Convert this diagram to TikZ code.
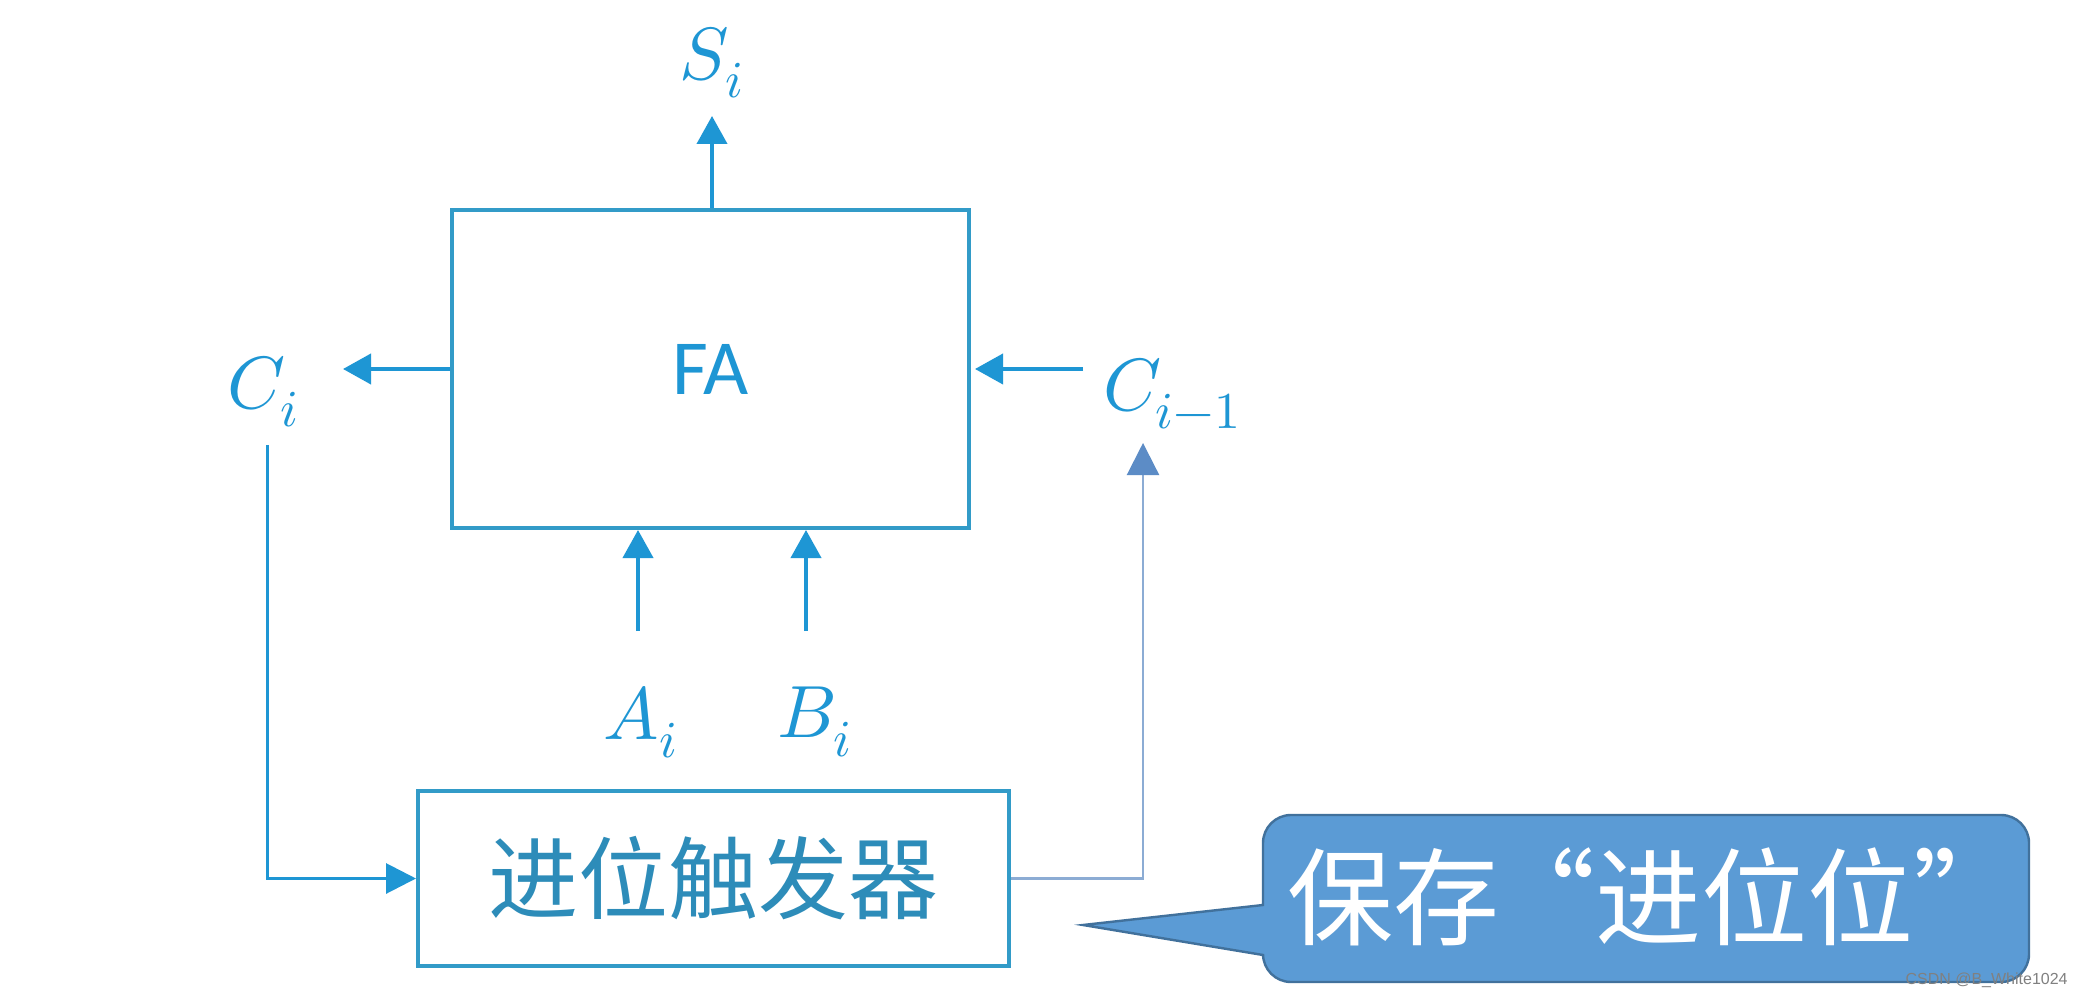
\documentclass[tikz,border=0pt]{standalone}
\usepackage{fontspec}
\usepackage{unicode-math}
\setmathfont{Latin Modern Math}
\newfontfamily\cjkfont{Noto Sans CJK SC}
\newfontfamily\fafont{Carlito}
\newfontfamily\wmfont{Liberation Sans}
\usetikzlibrary{arrows.meta}
\definecolor{fablue}{RGB}{30,150,212}
\definecolor{boxblue}{RGB}{50,155,200}
\definecolor{cftext}{RGB}{45,140,185}
\definecolor{graylink}{RGB}{140,172,212}
\definecolor{grayhead}{RGB}{92,140,198}
\definecolor{calloutfill}{RGB}{91,155,213}
\definecolor{calloutdraw}{RGB}{65,113,156}
\begin{document}
\begin{tikzpicture}[x=0.5pt,y=-0.5pt,
  lbl/.style={text=fablue, inner sep=0pt, font=\fontsize{37}{40}\selectfont},
  arr/.style={draw=fablue, line width=2pt, -{Triangle[length=14pt,width=15pt]}},
  arrthin/.style={draw=fablue, line width=1.5pt, -{Triangle[length=15pt,width=15pt]}},
  arrgray/.style={draw=graylink, line width=1.1pt, -{Triangle[length=16pt,width=16pt,color=grayhead,fill=grayhead]}},
  blockbox/.style={draw=boxblue, line width=2pt, rectangle, inner sep=0pt, fill=white}]
\useasboundingbox (0,0) rectangle (2096,999);
\fill[white] (0,0) rectangle (2096,999);

% FA block
\node[blockbox, minimum width=258.5pt, minimum height=159pt, text=fablue,
      font=\fafont\fontsize{39}{42}\selectfont] (fa) at (710.5,369) {FA};

% labels
\node[lbl] (si) at (712,63) {$S_i$};
\node[lbl] (ci) at (263,392) {$C_i$};
\node[lbl] (cim) at (1172,394) {$C_{i-1}$};
\node[lbl] (ai) at (641,722) {$A_i$};
\node[lbl] (bi) at (815,722) {$B_i$};

% coordinates for free ends
\coordinate (siTip) at (712,116);
\coordinate (ciTip) at (343,369);
\coordinate (cimStart) at (1083,369);
\coordinate (aiStart) at (638,631);
\coordinate (biStart) at (806,631);

\draw[arr] (fa.north -| siTip) -- (siTip);
\draw[arr] (fa.west) -- (ciTip);
\draw[arr, shorten >=2pt] (cimStart) -- (fa.east);
\draw[arr] (aiStart) -- (aiStart |- fa.south);
\draw[arr] (biStart) -- (biStart |- fa.south);

% carry flip-flop
\node[blockbox, minimum width=295.5pt, minimum height=87.5pt, text=cftext,
      font=\cjkfont\fontsize{45}{48}\selectfont] (cf) at (713.5,878.5) {进位触发器};

\coordinate (ciFoot) at (267,445);
\coordinate (cimFoot) at (1143,443);
\draw[arrthin] (ciFoot) |- (cf.west);
\draw[arrgray] (cf.east) -| (cimFoot);

% callout
\coordinate (ptip) at (1083,925);
\filldraw[fill=calloutfill, draw=calloutdraw, line width=1.2pt]
  (ptip) -- (1263,905) -- (1263,843) arc[start angle=180,end angle=90,radius=14pt]
  -- (2001,815) arc[start angle=90,end angle=0,radius=14pt]
  -- (2029,954) arc[start angle=0,end angle=-90,radius=14pt]
  -- (1291,982) arc[start angle=-90,end angle=-180,radius=14pt]
  -- (1263,955) -- cycle;
\node[text=white, inner sep=0pt, font=\cjkfont\fontsize{53}{55}\selectfont] (co) at (1648,897)
  {保存\makebox[0.9em][r]{“}进位位\makebox[0.9em][l]{”}};

\node[text=gray, inner sep=0pt, anchor=east, font=\wmfont\fontsize{8}{9}\selectfont] (wm) at (2068,980) {CSDN @B\_White1024};
\end{tikzpicture}
\end{document}
